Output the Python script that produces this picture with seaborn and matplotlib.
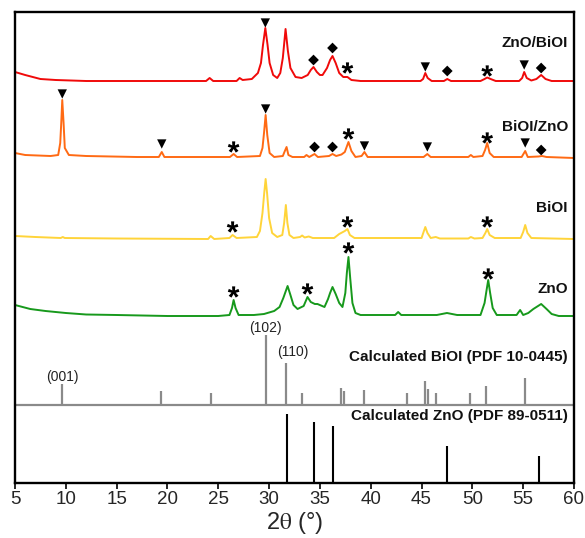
import matplotlib
matplotlib.use("Agg")
import matplotlib.pyplot as plt
import seaborn as sns
import pandas as pd
import numpy as np
from matplotlib.textpath import TextPath
from matplotlib.font_manager import FontProperties
from matplotlib.path import Path

# ---------------- data (2theta in degrees, intensity offset in arbitrary units) ----------------
red_x = [5.0, 6.0, 7.5, 9.0, 12, 20, 23.8, 24.15, 24.5, 26.8, 27.1, 27.4, 28.3, 28.9, 29.2, 29.4, 29.63,
         29.85, 30.05, 30.4, 30.8, 31.1, 31.35, 31.62, 31.85, 32.1, 32.6, 33.2, 33.8, 34.1, 34.37, 34.7,
         35.0, 35.26, 35.7, 36.0, 36.24, 36.55, 36.9, 37.3, 37.71, 38.1, 39.0, 44.9, 45.15, 45.37, 45.6,
         46.0, 47.2, 47.53, 47.9, 50.8, 51.2, 51.46, 51.8, 52.3, 54.6, 54.9, 55.1, 55.35, 55.8, 56.3,
         56.77, 57.2, 57.8, 60.0]
red_y = [411, 408, 404, 403, 402, 402, 402, 405, 402, 402, 405, 403, 404, 410, 420, 438, 455,
         438, 420, 408, 405, 410, 425, 454, 432, 415, 406, 405, 408, 413, 416, 411,
         408, 408, 415, 423, 427, 420, 410, 406, 406, 403, 402, 402, 404, 410, 405,
         402, 402, 404, 402, 402, 404, 405.5, 404, 402, 402, 405, 411, 405, 402.5, 404,
         408, 404, 402, 402]

orange_x = [5.0, 6.0, 8.5, 9.25, 9.45, 9.55, 9.65, 9.78, 9.9, 10.3, 12, 17, 19.15, 19.44, 19.7, 22,
            26.15, 26.51, 26.85, 29.1, 29.35, 29.5, 29.66, 29.82, 30.05, 30.5, 31.35, 31.55, 31.72,
            31.9, 32.3, 33.45, 33.68, 33.95, 34.47, 34.8, 35.9, 36.24, 36.6, 37.12, 37.45, 37.81,
            38.1, 38.5, 39.1, 39.38, 39.7, 45.2, 45.57, 45.9, 49.6, 49.85, 50.1, 51.0, 51.25, 51.46,
            51.7, 52.1, 54.85, 55.2, 55.45, 56.5, 56.85, 57.3, 60.0]
orange_y = [330, 328, 327, 328, 340, 360, 383, 360, 335, 328, 327, 326, 326, 331, 326, 326,
            326, 329, 326, 327, 335, 350, 368, 348, 330, 326, 327, 332, 336,
            328, 326, 326, 328, 326, 329, 326, 327, 329, 327, 328.5, 331, 341,
            332, 326, 327, 331, 326, 326, 329, 326, 326, 328, 326, 327, 333, 340,
            330, 326, 326, 332, 326, 326.5, 327, 326, 325]

yellow_x = [5.0, 7, 9.5, 9.7, 9.9, 15, 24.0, 24.25, 24.6, 26.1, 26.41, 26.8, 28.8, 29.1, 29.35, 29.52,
            29.66, 29.8, 30.0, 30.3, 30.8, 31.3, 31.48, 31.65, 31.8, 32.0, 32.4, 33.05, 33.25, 33.5,
            33.9, 34.3, 36.4, 36.9, 37.45, 37.71, 37.95, 38.4, 45.0, 45.2, 45.37, 45.58, 45.9, 46.4,
            46.8, 49.6, 49.85, 50.2, 51.0, 51.28, 51.46, 51.7, 52.2, 54.75, 55.0, 55.2, 55.42, 55.8, 60.0]
yellow_y = [247, 246, 245, 246, 245, 244.5, 244, 247, 244, 245, 248, 245, 246, 252, 270, 290,
            304, 290, 265, 250, 246, 248, 260, 278, 260, 248, 245, 246, 247.5, 245.5,
            246.5, 245, 245, 249, 252, 254, 248, 245, 245, 251, 256, 250, 245, 246,
            244.5, 244.5, 246, 244.5, 245, 250, 254, 248, 245, 245, 251, 258, 250, 245, 244]

green_x = [5.0, 6.5, 8, 10, 12, 15, 20, 25, 26.1, 26.35, 26.51, 26.7, 27.0, 28.5, 29.5, 30.5, 31.03,
           31.4, 31.82, 32.1, 32.4, 32.8, 33.4, 33.78, 34.1, 34.5, 34.76, 35.45, 35.8, 36.0, 36.24,
           36.55, 36.9, 37.22, 37.5, 37.65, 37.81, 37.98, 38.2, 38.5, 39.0, 42.4, 42.7, 43.0, 46.5,
           47.5, 48.5, 50.8, 51.2, 51.4, 51.56, 51.75, 52.0, 52.4, 54.35, 54.7, 55.0, 55.5, 56.0,
           56.77, 57.3, 57.8, 58.5, 60.0]
green_y = [178, 174, 172, 170, 168.5, 168, 167, 167, 168, 175, 183, 175, 168, 168, 169, 172, 176,
           185, 197, 188, 178, 174, 177, 186, 181, 179, 179, 176, 184, 190, 196,
           189, 180, 176, 190, 210, 226, 205, 180, 170, 168, 168, 171, 168, 168,
           170, 168, 168, 180, 193, 203, 190, 175, 168, 168, 173, 168, 170, 174,
           179, 174, 169, 167, 167]

# reference patterns (stick positions and heights)
biol_ref_pos = [9.65, 19.4, 24.3, 29.65, 31.65, 33.2, 37.05, 37.35, 39.3, 43.6, 45.37, 45.67, 46.45,
                49.8, 51.37, 55.2]
biol_ref_h = [99, 92, 90, 148, 120, 90, 95, 92, 93, 90, 102, 94, 90, 90, 97, 105]
biol_ref_base = 78
zno_ref_pos = [31.75, 34.4, 36.25, 47.55, 56.57]
zno_ref_h = [69, 61, 57, 37, 27]

# phase markers: (2theta, y)
tri_x = [29.63, 45.37, 55.1, 9.65, 19.44, 29.66, 39.38, 45.57, 55.2]
tri_y = [460, 416, 418, 389, 339, 374, 337, 336, 340]
dia_x = [34.37, 36.24, 47.53, 56.77, 34.47, 36.24, 56.77]
dia_y = [423, 435, 412, 415, 336, 336, 333]
ast_x = [37.71, 51.46, 26.51, 37.81, 51.46, 26.41, 37.71, 51.46, 26.51, 33.78, 37.81, 51.56]
ast_y = [415, 412, 336, 349, 345, 256, 261, 261, 191, 194, 235, 209]

labels = ["ZnO/BiOI", "BiOI/ZnO", "BiOI", "ZnO",
          "Calculated BiOI (PDF 10-0445)", "Calculated ZnO (PDF 89-0511)"]
label_y = [440, 356, 275, 194, 126, 67]
miller = ["(001)", "(102)", "(110)"]
miller_x = [9.65, 29.65, 32.3]
miller_y = [106, 155, 131]

xticks = [5, 10, 15, 20, 25, 30, 35, 40, 45, 50, 55, 60]

# ---------------- plot ----------------
sns.set_theme(style="ticks")
plt.rcParams["font.family"] = ["Liberation Sans", "DejaVu Sans"]
plt.rcParams["mathtext.fontset"] = "stix"

fig = plt.figure(figsize=(5.85, 5.38), dpi=100)
ax = fig.add_axes([15 / 585, 55 / 538, 559 / 585, 471 / 538])

traces = [(red_x, red_y, "#f00a0a"), (orange_x, orange_y, "#ff6a14"),
          (yellow_x, yellow_y, "#ffd43a"), (green_x, green_y, "#17991c")]
for xs, ys, c in traces:
    df = pd.DataFrame({"x": xs, "y": ys})
    sns.lineplot(data=df, x="x", y="y", sort=False, estimator=None, color=c, lw=1.4, ax=ax)

ax.axhline(biol_ref_base, color="#8a8a8a", lw=1.6)
ax.vlines(biol_ref_pos, biol_ref_base, biol_ref_h, color="#8a8a8a", lw=1.6)
ax.vlines(zno_ref_pos, 0, zno_ref_h, color="black", lw=1.5)

# centred bold asterisk marker built from the font glyph
tp = TextPath((0, 0), "*", prop=FontProperties(family="Liberation Sans", weight="bold"), size=10)
verts = np.array(tp.vertices, dtype=float)
codes = np.array(tp.codes)
start = verts[0].copy()
for i, c in enumerate(codes):
    if c == Path.MOVETO:
        start = verts[i].copy()
    elif c == Path.CLOSEPOLY:
        verts[i] = start
real = verts[codes != Path.CLOSEPOLY]
cx = (real[:, 0].min() + real[:, 0].max()) / 2
cy = (real[:, 1].min() + real[:, 1].max()) / 2
ast_marker = Path(verts - [cx, cy], codes)

sns.scatterplot(x=tri_x, y=tri_y, marker="v", s=45, color="black", edgecolor="none", ax=ax)
sns.scatterplot(x=dia_x, y=dia_y, marker="D", s=30, color="black", edgecolor="none", ax=ax)
sns.scatterplot(x=ast_x, y=ast_y, marker=ast_marker, s=70, color="black", edgecolor="none", ax=ax)

for t, yy in zip(labels, label_y):
    ax.text(59.4, yy, t, ha="right", va="center", fontsize=11, fontweight="bold", color="#111111")
for t, xx, yy in zip(miller, miller_x, miller_y):
    ax.text(xx, yy, t, ha="center", va="center", fontsize=10, color="#222222")

ax.set_xlim(5, 60)
ax.set_ylim(0, 471)
ax.set_xticks(xticks)
ax.set_yticks([])
ax.tick_params(axis="x", direction="out", length=4, width=1.4, labelsize=13.5, pad=2)
for s in ax.spines.values():
    s.set_visible(True)
    s.set_linewidth(1.7)
    s.set_color("black")
ax.set_xlabel(r"2$\mathrm{\theta}$ (°)", fontsize=17, labelpad=1)
ax.set_ylabel("")

fig.savefig("out.png", dpi=100)
